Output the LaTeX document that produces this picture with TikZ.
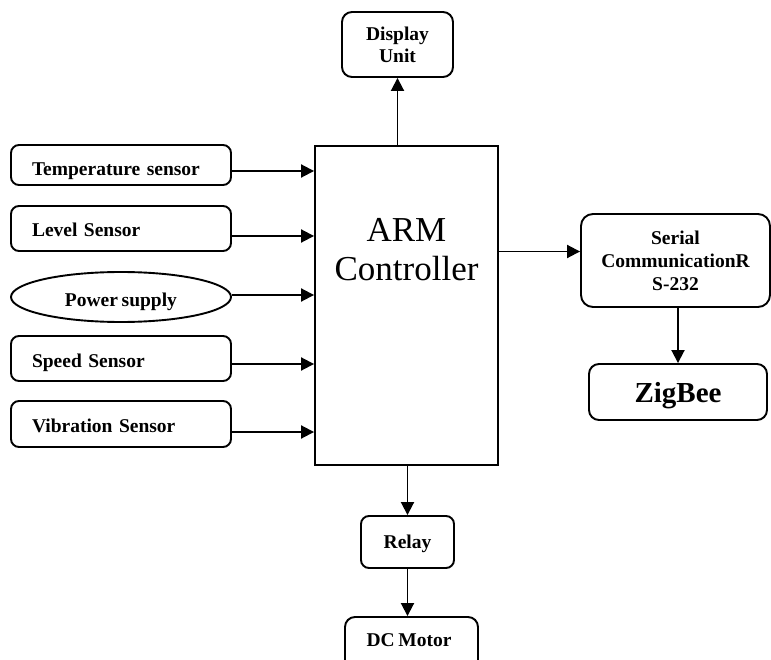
\documentclass[tikz,border=0pt]{standalone}
\usepackage{fontspec}
\setmainfont[WordSpace=0.75]{Liberation Serif}
\usetikzlibrary{arrows.meta,shapes.geometric}
\begin{document}
\begin{tikzpicture}[x=1pt,y=-1pt,
  line width=1.9pt,
  lbl/.style={font=\bfseries\fontsize{19.5}{22}\selectfont},
  blk/.style={draw, rounded corners=8pt, inner sep=0pt, lbl, align=center},
  sens/.style={blk, text width=178pt, inner xsep=21pt, align=left,
    minimum width=220pt, text height=16pt, text depth=0pt},
  arr/.style={-{Triangle[length=13pt,width=13pt]}},
]
\path[use as bounding box, clip] (0,0) rectangle (771,660);

% controller
\node[draw, minimum width=183pt, minimum height=319pt, inner sep=0pt] (arm) at (406.5,305.5) {};
\node[font=\fontsize{35}{39}\selectfont, align=center, inner sep=0pt] (armtext) at (406.5,250) {ARM\\Controller};

% display
\node[blk, rounded corners=10pt, minimum width=111pt, minimum height=65pt] (disp) at (397.5,44.5) {Display\\Unit};

% inputs
\node[sens, minimum height=40pt, text height=22pt] (temp) at (121,165) {\mbox{Temperature sensor}};
\node[sens, minimum height=45pt] (level) at (121,228.5) {\mbox{Level Sensor}};
\node[draw, ellipse, minimum width=220pt, minimum height=50pt, inner sep=0pt, lbl,
  text height=18pt, text depth=0pt] (power) at (121,297) {Power supply};
\node[sens, minimum height=45pt, text height=17pt] (speed) at (121,358.5) {\mbox{Speed Sensor}};
\node[sens, minimum height=46pt] (vib) at (121,424) {\mbox{Vibration Sensor}};

% communication
\node[blk, rounded corners=12pt, minimum width=189pt, minimum height=93pt,
  font=\bfseries\fontsize{19.5}{23}\selectfont] (serial) at (675.5,260.5) {Serial\\CommunicationR\\S-232};
\node[blk, rounded corners=10pt, minimum width=178pt, minimum height=56pt,
  font=\bfseries\fontsize{29}{32}\selectfont, text depth=0pt] (zig) at (678,392) {ZigBee};

% outputs
\node[blk, minimum width=93pt, minimum height=52pt, text depth=0pt] (relay) at (407.5,542) {Relay};
\node[draw, rounded corners=10pt, minimum width=133pt, minimum height=80pt, inner sep=0pt] (dc) at (411.5,657) {};
\node[lbl, inner sep=0pt, text depth=0pt] (dctext) at (409,640) {DC Motor};

% connectors
\draw[arr] (disp.south |- arm.north) -- (disp.south);

\path ([yshift=-6pt]temp.east) coordinate (tA);
\draw[arr] (tA) -- (tA -| arm.west);
\path ([yshift=-7.5pt]level.east) coordinate (lA);
\draw[arr] (lA) -- (lA -| arm.west);
\path ([yshift=2pt]power.east) coordinate (pA);
\draw[arr] (pA) -- (pA -| arm.west);
\path ([yshift=-5.5pt]speed.east) coordinate (spA);
\draw[arr] (spA) -- (spA -| arm.west);
\path ([yshift=-8pt]vib.east) coordinate (vA);
\draw[arr] (vA) -- (vA -| arm.west);

\path ([yshift=9pt]serial.west) coordinate (sA);
\draw[arr] (sA -| arm.east) -- (sA);
\draw[arr] (zig.north |- serial.south) -- (zig.north);

\draw[arr] (relay.north |- arm.south) -- (relay.north);
\draw[arr] (relay.south) -- (relay.south |- dc.north);
\end{tikzpicture}
\end{document}
